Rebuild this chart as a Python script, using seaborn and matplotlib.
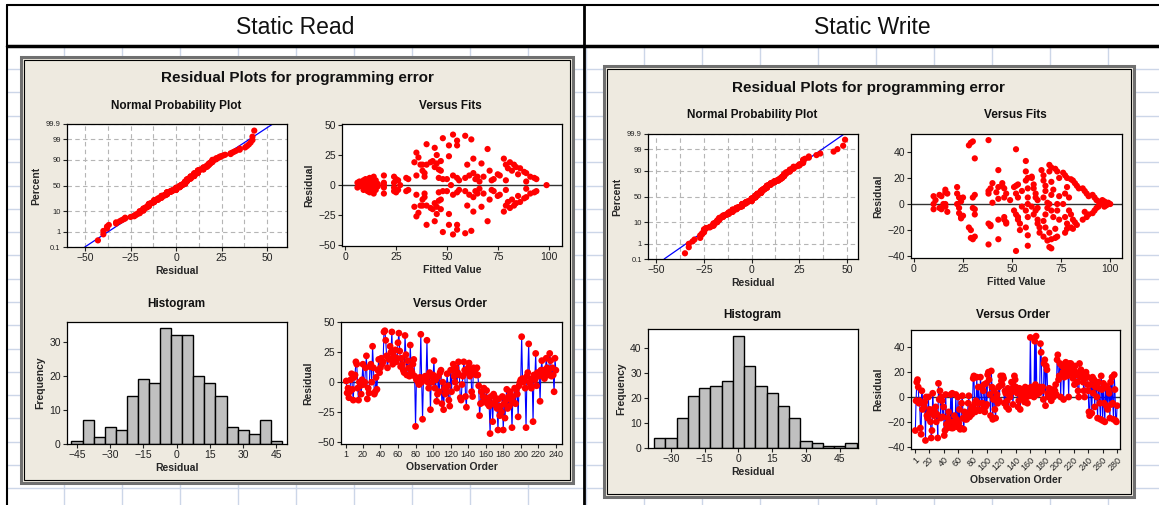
import statistics
import numpy as np
import pandas as pd
import matplotlib
matplotlib.use("Agg")
import matplotlib.pyplot as plt
from matplotlib.patches import Rectangle
from matplotlib.ticker import MultipleLocator
import seaborn as sns

W, H = 1159, 505

# ---------------- Static Read ----------------
read_order_resid = [
    1, -9, -5, -13, -8, 2, 7, -6, -15, 4,
    6, 17, 15, -5, -15, 0, -3, -10, 2, 15,
    -2, 0, 12, 22, -14, -5, -9, 13, 15, 0,
    30, 12, -10, -8, 4, -6, 10, 19, 8, 12,
    20, 15, 17, 42, 43, 35, 22, 12, 20, 19,
    30, 25, 42, 15, 22, 18, 27, 17, 20, 33,
    41, 26, 13, 20, 15, 10, 8, 39, 23, 6,
    18, 12, 5, 31, 10, 8, 15, 19, 5, -37,
    2, 3, 0, -2, 4, 40, 0, -31, 2, 4,
    5, 3, 35, 0, -5, 8, -23, 5, 0, 6,
    18, -5, 2, -16, -10, 5, -8, 8, 10, -18,
    0, -23, -5, -10, -8, 7, -3, -15, -20, 10,
    -8, 10, 15, 5, 0, 12, -5, 8, 17, 6,
    -13, -15, -2, 5, 17, 10, -12, -21, 8, 12,
    16, 5, 10, -8, -12, 12, 8, 10, 6, 12,
    6, -3, -28, -18, -8, -17, -12, -5, -15, -13,
    -7, -18, -15, -20, -43, -12, -18, -33, -10, -12,
    -16, -20, -22, -40, -14, -28, -20, -25, -12, -40,
    -18, -30, -15, -6, -22, -12, -20, -8, -15, -38,
    -12, -17, -5, -18, -6, -10, -29, -3, 0, 2,
    38, 3, 0, 2, -5, -38, 5, 8, 32, 0,
    -2, -5, 3, -33, 6, 2, 24, -3, 8, 5,
    6, -16, 10, 18, 5, 10, 3, 8, 20, 12,
    6, 10, 24, 18, 5, 12, 6, -8, 20, 10,
]

read_fits = [
    (6, 2), (6, -2), (7, 0), (7, 3), (8, -1), (8, 1), (9, 4), (9, -4), (9, 0),
    (10, 2), (10, -2), (10, 5), (11, -5), (11, 3), (11, -3), (11, 0), (12, 1),
    (12, -1), (12, 6), (12, -6), (13, 3), (13, -3), (13, 0), (14, 7), (14, -7),
    (14, 2), (14, -2), (15, 4), (15, -4), (15, 0), (16, 1), (16, -1),
    (19, 8), (19, -7), (19, 2), (19, -2), (19, 0),
    (24, 7), (24, -5), (24, 2), (24, -2), (25, 5), (25, -6), (26, 4), (26, -4), (27, 0),
    (30, 6), (30, -5), (31, 5), (31, -4),
    (34, 19), (34, -18), (35, 27), (35, -26), (35, 8), (35, -8), (36, 23), (36, -23),
    (37, 17), (37, -17), (38, 12), (38, -12), (38, 17), (38, -17), (39, 7), (39, -7),
    (39, 10), (39, -10), (40, 34), (40, -33), (40, 17), (40, -17),
    (42, 19), (42, -19), (43, 20), (43, -20), (44, 15), (44, -15), (44, 31), (44, -30),
    (45, 25), (45, -24), (45, 18), (45, -18), (46, 13), (46, -13), (46, 6), (46, -6),
    (47, 12), (47, -12), (47, 20), (47, -20), (48, 39), (48, -39), (48, 5), (48, -5),
    (50, 5), (50, -5), (51, 33), (51, -33), (51, 24), (51, -24), (52, 0), (53, 42),
    (53, -41), (53, 8), (53, -8), (55, 37), (55, -37), (55, 33), (55, -33), (55, 6),
    (55, -6), (56, 4), (56, -4),
    (59, 41), (59, -40), (59, 6), (59, -5), (60, 17), (60, -17), (61, 8), (61, -8),
    (62, 38), (62, -38), (63, 22), (63, -22), (63, 10), (63, -10), (64, 5), (64, -5),
    (65, 7), (65, -7), (66, 3), (66, -3),
    (67, 18), (67, -18), (68, 7), (68, -7), (70, 30), (70, -30), (71, 12), (71, -12),
    (72, 4), (72, -4), (73, 5), (73, -5), (75, 9), (75, -9), (76, 8), (76, -8),
    (78, 22), (78, -22), (79, 17), (79, -17), (79, 4), (79, -4), (80, 14), (80, -14),
    (81, 19), (81, -19), (82, 12), (82, -12), (83, 17), (83, -17), (84, 15), (84, -15),
    (85, 9), (85, -9), (86, 14), (86, -14),
    (88, 11), (88, -11), (89, 10), (89, -10), (89, 3), (89, -3), (91, 7), (91, -7),
    (93, 6), (93, -6), (94, 5), (94, -5), (99, 0),
]

read_hist_centers = [-45, -40, -35, -30, -25, -20, -15, -10, -5, 0,
                     5, 10, 15, 20, 25, 30, 35, 40, 45]
read_hist_counts = [1, 7, 2, 5, 4, 14, 19, 18, 34, 32,
                    32, 20, 18, 14, 5, 4, 3, 7, 1]

# ---------------- Static Write ----------------
write_order_resid = [
    -27, -3, 12, 14, 8, -5, -3, -25, -30, 5,
    -10, -5, -8, -4, -35, 0, -15, -17, 0, -13,
    -10, -20, -33, -27, 3, -10, -15, -12, -8, -20,
    -14, -33, 11, -2, 5, -17, 0, -3, -16, -8,
    -31, -27, 2, -22, -25, -17, -12, -24, -20, 2,
    -25, 3, -25, -20, -15, -22, 2, -18, -24, 0,
    -21, -10, -26, -25, -5, 1, -17, -26, -12, -18,
    -13, -18, -15, -5, 1, -16, -12, -10, -14, -8,
    15, 17, -5, -12, -3, 16, -10, 8, -5, -11,
    16, 8, -10, -5, 5, 10, -12, -8, 11, -6,
    18, 20, 14, 2, -15, 21, 8, -18, -2, 5,
    -10, -17, 0, 2, -5, 8, -3, 9, 17, 13,
    10, 17, 15, -5, 5, 3, -8, -3, 7, -10,
    2, 0, 6, 12, 4, -6, 9, 17, 14, 8,
    5, 3, -8, -3, 7, -10, 2, 0, 6, 4,
    5, -4, 8, 2, 0, -5, 3, 7, 1, 48,
    8, 5, 2, 6, 0, 45, 10, 49, 2, 7,
    5, 3, 8, 43, 36, 5, 8, -2, 27, 30,
    -7, 25, 22, 3, 0, 7, 4, 2, -3, 6,
    1, 0, 3, 5, 10, 2, 30, 34, 14, 17,
    27, 0, 26, 25, 20, -2, 16, 22, 28, 22,
    17, 24, 0, 27, 19, 27, 22, 20, 15, 18,
    10, 25, 20, 18, 12, 5, 0, 27, 16, 22,
    20, 18, 12, 5, 0, 15, 20, 17, 10, 5,
    -12, -15, 10, 15, -13, 16, 3, 14, -8, 8,
    10, 0, -17, 12, 7, -5, -18, 17, 6, -19,
    11, -5, -20, 9, -7, 8, -10, 6, 3, -17,
    12, -6, 16, -5, -18, 18, 6, -19, -20, -7,
]

write_fits = [
    (10, 6), (10, 0), (10, -4), (11, 3), (13, 7), (13, -3), (14, -4), (14, 6), (15, 0),
    (16, 11), (16, 9), (16, -2), (17, -6), (17, 8), (16, 0),
    (22, 8), (22, 13), (22, 0), (23, 5), (23, -3), (23, -7), (24, -10), (24, -11),
    (24, 2), (24, 4), (25, 5), (25, -9),
    (28, 45), (29, 47), (28, -18), (29, -20), (29, -26), (30, 5), (30, -3), (30, 48),
    (31, 35), (31, 7), (31, -4), (31, -8), (31, -25), (30, -27),
    (38, 49), (38, 10), (38, 8), (38, -15), (39, -16), (39, -17), (38, -31), (40, 16),
    (40, 1), (39, 12),
    (43, 26), (43, 13), (43, 4), (43, -12), (43, -27), (42, 9),
    (45, 16), (45, 14), (46, 12), (46, 5), (47, 8), (46, -10), (46, -12), (47, -14),
    (47, -15), (49, 3),
    (52, 42), (51, 13), (52, 14), (53, 15), (52, 8), (53, 5), (51, -5), (52, -8),
    (53, -10), (53, -12), (54, -15), (54, -20), (52, -36), (55, 10), (55, -2),
    (57, 33), (57, 25), (58, 20), (57, 18), (58, 12), (58, 5), (58, 0), (57, -5),
    (58, -10), (57, -18), (58, -24), (58, -32),
    (60, 21), (60, 20), (61, 15), (61, 12), (62, 8), (62, 5), (63, 3), (63, -3),
    (62, -5), (61, -8), (63, -12), (63, -15), (64, -18), (64, -22), (60, -2),
    (65, 26), (66, 22), (66, 18), (67, 14), (67, 10), (66, 5), (68, 1), (68, -3),
    (67, -8), (66, -13), (67, -18), (66, -25), (68, -28),
    (69, 30), (70, 28), (69, 25), (70, 17), (71, 11), (70, 7), (69, 0), (70, -5),
    (71, -10), (69, -22), (70, -27), (69, -33), (70, -34),
    (72, 27), (73, 25), (74, 20), (74, 6), (73, 0), (73, -5), (74, -12), (72, -19),
    (73, -25), (72, -26),
    (76, 24), (77, 22), (78, 20), (78, 13), (77, 8), (76, 0), (77, -10), (78, -15),
    (78, -19), (77, -22), (79, 5), (79, -5),
    (80, 19), (81, 18), (82, 16), (83, 14), (84, 12), (80, -8), (81, -12), (82, -14),
    (83, -16), (80, -18), (81, -19),
    (86, 12), (87, 10), (88, 8), (89, 6), (87, -6), (89, -8), (88, -10), (86, -12),
    (91, 7), (92, 5), (93, 3), (94, 2), (95, 0), (94, -2), (93, -3), (92, -5), (91, -7),
    (96, 3), (97, 2), (98, 1), (99, 0), (98, -1), (97, -2), (100, 0), (99, 1),
]

write_hist_centers = [-35, -30, -25, -20, -15, -10, -5, 0, 5,
                      10, 15, 20, 25, 30, 35, 40, 45, 50]
write_hist_counts = [4, 4, 12, 21, 24, 25, 27, 45, 33,
                     25, 22, 17, 12, 3, 2, 1, 1, 2]

prob_ticks = [0.1, 1, 10, 50, 90, 99, 99.9]
prob_labels = ["0.1", "1", "10", "50", "90", "99", "99.9"]

sns.set_theme(style="ticks")
NARROW = ["Liberation Sans Narrow", "Liberation Sans", "DejaVu Sans"]
plt.rcParams["font.family"] = NARROW

BEIGE = "#EEEAE0"
RED = "#FF0000"
nd = statistics.NormalDist()


def px_axes(fig, l, t, r, b):
    return fig.add_axes([l / W, 1 - b / H, (r - l) / W, (b - t) / H])


def ftext(fig, x, y, s, size, weight="bold", **kw):
    fig.text(x / W, 1 - y / H, s, ha="center", va="center", fontsize=size,
             fontweight=weight, color="#111111", **kw)


def style(ax, xlabel, ylabel, tick_size=7.5):
    ax.set_facecolor("white")
    for sp in ax.spines.values():
        sp.set_visible(True)
        sp.set_color("black")
        sp.set_linewidth(0.9)
    ax.tick_params(direction="out", length=3, width=0.8, colors="#222222",
                   labelsize=tick_size, pad=1.5)
    ax.set_xlabel(xlabel, fontsize=7.5, fontweight="bold", labelpad=2)
    ax.set_ylabel(ylabel, fontsize=7.5, fontweight="bold", labelpad=3)


def prob_plot(ax, resid, xlim):
    r = np.sort(np.asarray(resid, dtype=float))
    n = len(r)
    z = [nd.inv_cdf((i - 0.3) / (n + 0.4)) for i in range(1, n + 1)]
    zlo, zhi = nd.inv_cdf(0.001), nd.inv_cdf(0.999)
    mu, sd = r.mean(), r.std(ddof=1)
    sns.lineplot(x=[mu + sd * zlo, mu + sd * zhi], y=[zlo, zhi], color="blue",
                 lw=0.9, ax=ax, zorder=2)
    sns.scatterplot(x=r, y=z, color=RED, s=20, edgecolor="none", ax=ax, zorder=3)
    ax.set_xlim(xlim)
    ax.set_ylim(zlo, zhi)
    ax.set_xticks([-50, -25, 0, 25, 50])
    ax.xaxis.set_minor_locator(MultipleLocator(12.5))
    ax.set_yticks([nd.inv_cdf(p / 100) for p in prob_ticks])
    ax.set_yticklabels(prob_labels)
    ax.grid(True, which="both", axis="x", ls=(0, (4, 3)), color="#B5B5B5", lw=0.8)
    ax.grid(True, which="major", axis="y", ls=(0, (4, 3)), color="#B5B5B5", lw=0.8)
    style(ax, "Residual", "Percent")
    ax.tick_params(axis="y", labelsize=5.5)
    ax.tick_params(which="minor", length=0)


def fits_plot(ax, pts, xlim, ylim, yticks):
    df = pd.DataFrame(pts, columns=["fit", "resid"])
    ax.axhline(0, color="#333333", lw=1, zorder=1)
    sns.scatterplot(data=df, x="fit", y="resid", color=RED, s=20, edgecolor="none",
                    ax=ax, zorder=3)
    ax.set_xlim(xlim)
    ax.set_ylim(ylim)
    ax.set_xticks([0, 25, 50, 75, 100])
    ax.set_yticks(yticks)
    style(ax, "Fitted Value", "Residual")


def hist_plot(ax, centers, counts, xlim, ylim, xticks, yticks):
    df = pd.DataFrame({"center": centers, "count": counts})
    sns.histplot(data=df, x="center", weights="count", binwidth=5,
                 binrange=(centers[0] - 2.5, centers[-1] + 2.5), color="#C0C0C0",
                 edgecolor="black", linewidth=1, alpha=1, ax=ax)
    ax.set_xlim(xlim)
    ax.set_ylim(ylim)
    ax.set_xticks(xticks)
    ax.set_yticks(yticks)
    style(ax, "Residual", "Frequency")


def order_plot(ax, resid, xlim, ylim, xticks, yticks, rot=0):
    df = pd.DataFrame({"obs": np.arange(1, len(resid) + 1), "resid": resid})
    ax.axhline(0, color="#333333", lw=1, zorder=1)
    sns.lineplot(data=df, x="obs", y="resid", color="blue", lw=0.8, estimator=None,
                 sort=False, ax=ax, zorder=2)
    sns.scatterplot(data=df, x="obs", y="resid", color=RED, s=24, edgecolor="none",
                    ax=ax, zorder=3)
    ax.set_xlim(xlim)
    ax.set_ylim(ylim)
    ax.set_xticks(xticks)
    ax.set_yticks(yticks)
    style(ax, "Observation Order", "Residual")
    ax.tick_params(axis="x", labelsize=6.5)
    if rot:
        for lab in ax.get_xticklabels():
            lab.set_rotation(rot)
            lab.set_ha("right")
            lab.set_rotation_mode("anchor")


fig = plt.figure(figsize=(W / 100, H / 100), dpi=100)
fig.patch.set_facecolor("white")

# background: spreadsheet cells, table frame and the two Minitab panels
bg = fig.add_axes([0, 0, 1, 1])
bg.set_xlim(0, W)
bg.set_ylim(H, 0)
bg.axis("off")
for gx in range(64, W, 58):
    bg.plot([gx, gx], [47, H], color="#CCD6E8", lw=1, zorder=0)
for gy in np.arange(69, H, 23.3):
    bg.plot([7, W], [gy, gy], color="#CCD6E8", lw=1, zorder=0)
bg.plot([7, W], [5, 5], color="black", lw=1.5)
bg.plot([7, W], [46, 46], color="black", lw=2.5)
bg.plot([7, 7], [5, H], color="black", lw=1.5)
bg.plot([584, 584], [5, H], color="black", lw=2)
bg.add_patch(Rectangle((8, 6), 575, 39, color="white", zorder=1))
bg.add_patch(Rectangle((586, 6), W - 586, 39, color="white", zorder=1))
for (l, t, r, b) in [(21, 57, 573, 483), (604, 66, 1134, 497)]:
    bg.add_patch(Rectangle((l, t), r - l, b - t, facecolor=BEIGE,
                           edgecolor="#707070", lw=2.2, zorder=2))
    bg.add_patch(Rectangle((l + 3, t + 3), r - l - 6, b - t - 6, facecolor="none",
                           edgecolor="black", lw=0.8, zorder=3))

ftext(fig, 295, 27, "Static Read", 16.5, weight="normal")
ftext(fig, 872, 27, "Static Write", 16.5, weight="normal")

# ----- Static Read -----
ftext(fig, 297, 78, "Residual Plots for programming error", 11)
ftext(fig, 176, 106, "Normal Probability Plot", 8.5)
ftext(fig, 450, 106, "Versus Fits", 8.5)
ftext(fig, 176, 304, "Histogram", 8.5)
ftext(fig, 450, 304, "Versus Order", 8.5)

ax = px_axes(fig, 67, 124, 287, 247)
prob_plot(ax, read_order_resid, (-60, 61))
ax = px_axes(fig, 342, 124, 562, 246)
fits_plot(ax, read_fits, (-1.6, 106.6), (-50.6, 50.8), [-50, -25, 0, 25, 50])
ax = px_axes(fig, 67, 322, 287, 444)
hist_plot(ax, read_hist_centers, read_hist_counts, (-49.5, 49.8), (0, 35.9),
          [-45, -30, -15, 0, 15, 30, 45], [0, 10, 20, 30])
ax = px_axes(fig, 341, 322, 562, 444)
order_plot(ax, read_order_resid, (-5, 247), (-51.7, 50.3),
           [1] + list(range(20, 241, 20)), [-50, -25, 0, 25, 50])

# ----- Static Write -----
ftext(fig, 868, 88, "Residual Plots for programming error", 11)
ftext(fig, 752, 115, "Normal Probability Plot", 8.5)
ftext(fig, 1015, 115, "Versus Fits", 8.5)
ftext(fig, 752, 315, "Histogram", 8.5)
ftext(fig, 1013, 315, "Versus Order", 8.5)

ax = px_axes(fig, 648, 134, 858, 259)
prob_plot(ax, write_order_resid, (-54.4, 55.8))
ax = px_axes(fig, 911, 134, 1122, 258)
fits_plot(ax, write_fits, (-1.5, 106), (-41.4, 53.7), [-40, -20, 0, 20, 40])
ax = px_axes(fig, 648, 329, 858, 448)
hist_plot(ax, write_hist_centers, write_hist_counts, (-40.2, 53.1), (0, 47.8),
          [-30, -15, 0, 15, 30, 45], [0, 10, 20, 30, 40])
ax = px_axes(fig, 911, 330, 1120, 449)
order_plot(ax, write_order_resid, (-5, 284), (-41.9, 54),
           [1] + list(range(20, 281, 20)), [-40, -20, 0, 20, 40], rot=45)

fig.savefig("out.png", dpi=100)
